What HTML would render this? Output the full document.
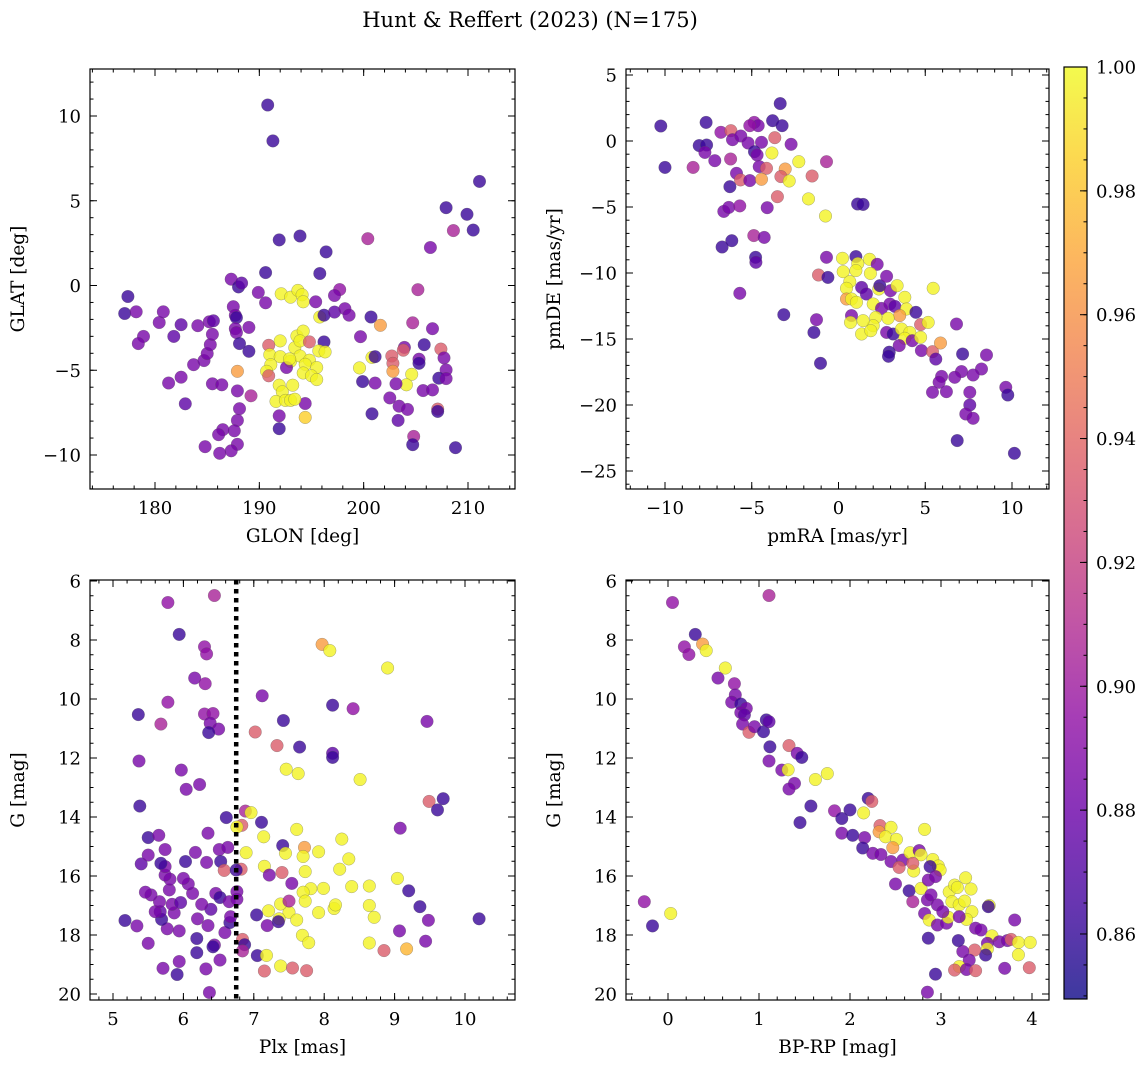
<!DOCTYPE html>
<html><head><meta charset="utf-8"><style>
html,body{margin:0;padding:0;background:#fff;}
svg text{font-family:"DejaVu Serif","Liberation Serif",serif;fill:#000;}
</style></head><body>
<svg id="fig" width="1148" height="1067" viewBox="0 0 1148 1067" xmlns="http://www.w3.org/2000/svg">
<defs>
<linearGradient id="plasma" x1="0" y1="1" x2="0" y2="0">
<stop offset="0" stop-color="#0d0887"/><stop offset="0.1" stop-color="#41049d"/><stop offset="0.2" stop-color="#6a00a8"/><stop offset="0.3" stop-color="#8f0da4"/><stop offset="0.4" stop-color="#b12a90"/><stop offset="0.5" stop-color="#cc4778"/><stop offset="0.6" stop-color="#e16462"/><stop offset="0.7" stop-color="#f2844b"/><stop offset="0.8" stop-color="#fca636"/><stop offset="0.9" stop-color="#fcce25"/><stop offset="1" stop-color="#f0f921"/>
</linearGradient>
</defs>
<text x="530" y="27" font-size="21" text-anchor="middle">Hunt &amp; Reffert (2023) (N=175)</text>
</svg>
<script>
// Panel 1: GLON vs GLAT
const glon=[190.8,191.3,211.1,207.9,209.9,208.6,210.5,191.9,193.9,200.4,196.4,206.4,190.6,195.8,177.4,177.1,178.2,180.4,180.8,178.9,178.4,181.8,182.5,182.9,181.3,182.5,183.7,184.1,184.7,185.0,185.3,185.5,185.2,185.6,185.5,186.4,187.3,188.0,188.3,187.5,187.7,187.8,187.7,187.8,189.0,188.1,189.0,187.9,187.9,189.2,188.1,187.9,187.6,186.5,186.1,187.9,187.3,186.2,184.8,189.9,190.6,192.1,193.0,193.7,194.1,194.2,195.4,195.8,196.2,197.2,197.7,197.2,198.2,198.6,200.7,201.6,199.7,205.2,204.7,206.6,205.8,203.9,203.8,202.7,207.4,207.7,205.3,205.3,202.8,202.8,207.9,207.2,207.9,204.6,204.1,203.1,205.7,206.6,202.5,203.4,204.2,207.1,207.1,203.3,204.8,204.7,208.8,200.8,201.1,199.9,200.8,201.1,199.6,191.9,191.9,194.4,194.4,192.0,190.9,191.0,191.1,190.7,190.9,191.9,193.2,192.2,191.6,192.5,193.0,193.4,192.0,193.0,192.6,193.4,193.6,194.2,193.9,194.8,196.2,195.7,196.3,193.9,194.8,194.4,195.5,194.2,195.0,195.5,192.9];
const glat=[10.65,8.53,6.14,4.59,4.2,3.24,3.27,2.69,2.92,2.76,1.98,2.24,0.76,0.71,-0.65,-1.65,-1.55,-2.18,-1.55,-3.0,-3.43,-3.0,-2.31,-6.98,-5.75,-5.41,-4.67,-2.37,-4.43,-4.02,-3.49,-2.88,-2.14,-2.08,-5.80,-5.86,0.37,-0.08,0.14,-1.25,-1.76,-1.9,-2.55,-2.78,-2.47,-3.43,-3.88,-5.06,-6.22,-6.51,-7.27,-7.96,-8.57,-8.51,-8.8,-9.37,-9.75,-9.9,-9.51,-0.41,-1.02,-0.49,-0.69,-0.29,-0.55,-0.96,-0.96,-1.86,-1.75,-1.57,-0.24,-0.59,-1.37,-1.75,-1.86,-2.35,-3.02,-0.25,-2.2,-2.55,-3.49,-3.65,-3.82,-4.16,-3.75,-4.27,-4.35,-4.59,-4.59,-5.06,-4.98,-5.47,-5.49,-5.24,-5.86,-5.80,-6.2,-6.16,-6.63,-7.12,-7.31,-7.29,-7.43,-7.96,-8.9,-9.39,-9.57,-7.57,-5.76,-5.67,-4.24,-4.2,-4.86,-8.45,-7.69,-6.96,-7.78,-3.27,-3.53,-4.08,-4.67,-5.06,-5.33,-5.88,-5.88,-6.27,-6.84,-6.78,-6.78,-6.71,-4.2,-4.47,-4.84,-3.67,-2.98,-2.69,-3.27,-3.33,-3.33,-3.86,-3.92,-4.16,-4.41,-4.65,-4.84,-5.16,-5.33,-5.55,-4.33];
const prob1=[.862,.862,.862,.862,.862,.905,.862,.862,.862,.905,.862,.885,.862,.862,.862,.862,.885,.885,.885,.885,.885,.875,.875,.875,.885,.885,.885,.885,.885,.885,.885,.885,.885,.875,.885,.885,.885,.862,.875,.885,.885,.862,.885,.885,.885,.862,.862,.965,.885,.905,.885,.885,.885,.885,.885,.885,.885,.885,.885,.885,.885,.998,.998,.998,.998,.998,.885,.998,.862,.875,.895,.885,.885,.885,.862,.965,.885,.905,.905,.885,.862,.885,.935,.935,.935,.885,.885,.862,.935,.965,.885,.862,.885,.998,.998,.885,.885,.885,.885,.885,.885,.935,.862,.875,.905,.862,.862,.862,.885,.862,.998,.862,.998,.862,.885,.885,.985,.998,.935,.998,.998,.998,.935,.998,.998,.998,.998,.998,.998,.998,.998,.998,.885,.998,.998,.998,.998,.935,.862,.998,.998,.998,.998,.998,.998,.998,.998,.998,.998];
// Panel 2: pmRA vs pmDE
const pmra=[-10.24,-10.0,-7.63,-3.36,-3.8,-3.25,-4.86,-4.63,-5.11,-6.78,-6.2,-6.11,-5.63,-5.21,-4.44,-3.67,-2.73,-8.03,-7.6,-7.7,-4.84,-4.69,-3.84,-7.13,-6.22,-8.38,-4.57,-4.15,-3.07,-2.29,-0.69,-5.88,-5.65,-5.11,-4.44,-3.32,-2.84,-1.52,-6.26,-3.52,-1.73,-0.75,-6.61,-6.32,-5.69,-4.11,1.1,1.42,-6.71,-6.15,-4.88,-4.28,-4.78,-4.76,-5.69,-3.15,-1.42,-1.04,-1.27,-0.69,-1.15,-0.61,0.23,1.0,1.11,1.79,2.23,1.84,1.0,0.27,0.65,0.46,0.46,0.75,1.04,1.33,1.61,2.32,2.38,2.77,3.0,3.38,3.82,2.0,2.48,2.96,3.25,3.92,4.46,5.46,3.53,2.86,2.15,2.0,1.42,0.75,0.69,1.33,1.86,2.77,3.15,3.63,4.11,3.82,4.25,4.73,4.73,5.17,4.78,3.5,2.92,2.88,5.42,5.88,5.61,6.8,7.15,8.53,8.24,7.09,7.76,6.7,5.94,5.8,5.42,6.22,7.57,7.57,7.34,7.76,9.64,9.76,6.84,10.14];
const pmde=[1.14,-2.0,1.41,2.83,1.54,1.16,1.41,1.16,1.16,0.66,0.78,0.1,0.38,-0.15,-0.1,0.25,-0.25,-0.35,-0.3,-0.86,-0.81,-1.06,-0.91,-1.49,-1.36,-2.0,-1.94,-2.07,-2.12,-1.57,-1.57,-2.45,-2.95,-3.0,-2.9,-2.7,-3.03,-2.65,-3.46,-4.22,-4.39,-5.68,-5.33,-5.03,-4.92,-5.05,-4.77,-4.8,-8.03,-7.55,-7.17,-7.3,-8.81,-9.19,-11.54,-13.16,-14.5,-16.84,-13.54,-8.81,-10.15,-10.33,-8.89,-8.76,-9.29,-8.96,-9.34,-10.03,-9.82,-9.9,-10.66,-11.16,-11.97,-11.97,-12.22,-11.09,-11.59,-11.21,-10.96,-10.25,-11.34,-10.96,-11.84,-12.35,-12.68,-12.35,-12.53,-12.73,-12.98,-11.16,-13.23,-13.43,-13.36,-13.99,-13.61,-13.23,-13.74,-14.62,-14.37,-14.5,-14.62,-14.24,-14.5,-14.95,-15.13,-14.87,-13.91,-13.74,-15.88,-15.5,-16.0,-16.31,-15.96,-15.3,-16.52,-13.86,-16.14,-16.21,-17.27,-17.47,-17.73,-17.9,-17.83,-18.28,-19.04,-18.99,-19.04,-20.0,-20.68,-21.01,-18.66,-19.24,-22.7,-23.66];
const prob2=[.862,.862,.862,.862,.862,.862,.895,.885,.895,.895,.935,.885,.885,.885,.885,.935,.885,.862,.862,.885,.862,.885,.998,.885,.905,.905,.885,.935,.965,.998,.905,.885,.935,.885,.965,.935,.998,.935,.862,.935,.998,.998,.885,.885,.895,.885,.862,.862,.862,.862,.905,.885,.862,.875,.885,.862,.862,.862,.885,.885,.935,.862,.998,.862,.998,.998,.885,.998,.998,.998,.998,.998,.965,.998,.998,.875,.875,.998,.862,.885,.885,.998,.998,.998,.885,.885,.875,.998,.862,.998,.965,.998,.998,.998,.998,.885,.998,.998,.998,.885,.862,.998,.998,.998,.885,.998,.935,.998,.885,.885,.862,.862,.935,.965,.875,.885,.862,.885,.885,.885,.885,.885,.885,.885,.885,.885,.885,.875,.885,.885,.885,.862,.862,.862];
// Panel 3: Plx vs G
const plx=[5.78,6.44,5.94,6.30,6.33,6.16,6.31,5.78,5.36,5.68,6.30,6.42,6.38,6.5,6.36,5.37,5.97,6.04,6.23,5.38,7.12,7.02,7.33,7.42,7.65,8.12,8.41,8.12,8.12,7.97,8.08,8.9,9.46,7.46,7.63,8.51,9.49,9.69,9.61,9.08,6.61,6.88,6.96,6.83,6.76,7.11,7.14,7.61,8.25,7.41,7.45,7.72,7.7,6.89,7.92,8.35,8.22,7.73,7.4,7.15,6.82,7.22,7.54,9.04,7.99,7.81,7.7,7.73,8.39,8.64,9.2,9.36,9.48,10.2,8.64,8.71,8.14,8.16,7.92,7.5,7.38,7.5,7.61,7.36,7.21,7.04,7.19,7.35,7.69,7.78,8.64,8.85,9.17,9.44,9.07,6.84,6.87,6.84,7.05,7.18,7.38,7.15,7.55,7.75,6.37,5.91,5.71,5.94,6.32,6.52,6.44,6.42,6.19,6.19,5.5,5.17,5.34,5.77,5.94,6.35,6.59,6.66,6.67,6.2,6.39,6.26,5.87,5.84,5.96,5.69,5.67,5.6,5.66,5.54,5.46,5.8,6.13,6.07,6.0,5.81,5.74,5.74,5.68,5.4,5.5,5.74,5.5,5.65,6.03,6.17,6.33,6.35,6.51,6.63,6.53,6.58,6.75,6.46,6.52,6.65,6.76,6.76];
const gmag3=[6.73,6.49,7.81,8.23,8.47,9.29,9.48,10.11,10.53,10.85,10.51,10.49,10.82,11.02,11.14,12.1,12.41,13.06,12.9,13.63,9.89,11.12,11.58,10.73,11.63,10.21,10.33,11.84,11.98,8.15,8.36,8.95,10.76,12.38,12.53,12.73,13.47,13.38,13.76,14.38,14.02,13.8,13.85,14.28,14.34,14.18,14.67,14.42,14.75,14.97,15.23,15.03,15.34,15.21,15.18,15.42,15.77,15.85,15.88,15.67,15.77,15.97,16.25,16.08,16.42,16.43,16.55,16.85,16.36,16.34,16.5,17.04,17.5,17.45,17.0,17.4,17.1,16.98,17.24,17.23,16.95,16.85,17.49,17.45,17.18,17.32,17.68,17.55,18.01,18.26,18.27,18.53,18.47,18.21,17.86,18.15,18.33,18.54,18.7,18.69,19.05,19.22,19.12,19.21,19.95,19.34,19.13,18.9,19.15,18.85,18.34,18.4,18.12,18.6,18.28,17.51,17.69,17.79,17.86,17.68,17.92,17.58,17.38,17.45,17.13,16.96,17.25,16.96,16.9,17.47,17.21,17.21,16.87,16.64,16.55,16.47,16.59,16.27,16.08,16.11,15.97,15.68,15.57,15.59,15.29,15.1,14.7,14.62,15.51,15.2,15.54,14.55,15.1,15.03,15.51,15.81,15.8,16.59,16.73,16.87,16.53,16.79];
const prob3=[.895,.905,.862,.895,.895,.885,.895,.895,.862,.905,.895,.895,.885,.885,.862,.885,.885,.885,.885,.862,.885,.935,.935,.862,.862,.862,.895,.875,.862,.965,.998,.998,.885,.998,.998,.998,.935,.862,.862,.885,.862,.905,.998,.935,.998,.862,.998,.998,.998,.862,.998,.965,.998,.998,.998,.998,.998,.998,.935,.998,.935,.885,.885,.998,.998,.998,.998,.998,.998,.998,.862,.862,.885,.862,.998,.998,.998,.998,.998,.998,.998,.905,.998,.998,.998,.862,.885,.862,.998,.998,.998,.935,.975,.885,.885,.935,.862,.905,.862,.998,.998,.935,.935,.935,.885,.862,.885,.885,.885,.885,.885,.862,.862,.862,.885,.862,.885,.885,.885,.885,.885,.862,.885,.885,.875,.885,.885,.885,.875,.862,.875,.885,.885,.885,.885,.885,.885,.885,.885,.885,.885,.885,.862,.875,.885,.885,.862,.885,.862,.885,.885,.885,.885,.885,.862,.935,.862,.885,.862,.885,.885,.885,.885];
// Panel 4: BP-RP vs G
const bprp=[0.05,1.11,0.3,0.18,0.23,0.38,0.42,0.63,0.55,0.73,0.74,0.7,0.8,0.86,0.8,0.84,0.82,0.89,0.95,1.05,1.08,1.11,1.12,1.11,1.33,1.42,1.47,1.25,1.32,1.39,1.33,1.62,1.75,1.57,1.45,1.83,1.91,2.0,1.91,2.03,2.15,2.2,2.24,2.16,2.14,2.25,2.33,2.32,2.45,2.39,2.51,2.47,2.34,2.45,2.58,2.54,2.66,2.76,2.78,2.82,2.7,2.69,2.91,2.97,2.99,2.88,2.5,2.65,2.78,2.86,2.94,2.69,2.85,2.89,2.96,2.82,2.87,2.96,3.06,3.08,3.02,3.09,3.15,3.18,3.27,3.33,3.12,3.2,3.26,3.34,3.28,3.2,3.38,3.44,3.53,3.52,3.56,3.51,3.51,3.49,3.37,3.24,3.19,3.31,3.2,3.15,3.28,3.38,3.64,3.73,3.77,3.81,3.85,3.98,3.85,3.97,3.7,2.86,2.94,2.85,-0.26,-0.17,0.03];
const gmag4=[6.73,6.49,7.81,8.23,8.49,8.14,8.36,8.95,9.29,9.48,9.86,10.11,10.17,10.32,10.46,10.54,10.85,11.13,10.94,11.11,10.71,10.77,11.62,12.1,11.58,11.84,11.98,12.41,12.4,12.86,13.05,12.73,12.53,13.63,14.19,13.79,14.05,13.76,14.55,14.62,13.86,13.37,13.47,14.7,15.05,15.23,14.29,14.5,14.35,14.67,14.76,15.04,15.27,15.51,15.46,15.71,15.21,15.14,15.28,14.42,15.83,15.57,15.44,15.66,15.8,15.68,16.27,16.5,16.42,16.14,16.02,16.87,16.81,16.64,16.98,17.27,17.49,17.66,17.6,17.4,17.21,16.54,16.31,16.39,16.06,16.44,16.87,16.98,16.85,17.21,17.47,17.38,17.77,17.83,17.0,17.04,18.03,18.28,18.47,18.68,18.51,18.56,18.19,18.85,19.07,19.19,19.17,19.21,18.23,18.19,18.15,17.49,18.25,18.25,18.67,19.11,19.13,18.11,19.33,19.94,16.87,17.69,17.27];
const prob4=[.895,.905,.862,.895,.895,.965,.998,.998,.885,.895,.885,.885,.862,.885,.885,.875,.885,.935,.885,.862,.862,.875,.862,.885,.935,.885,.862,.885,.998,.885,.885,.998,.998,.862,.862,.895,.862,.862,.885,.862,.998,.862,.935,.885,.862,.885,.935,.965,.998,.998,.998,.965,.885,.885,.885,.935,.998,.885,.998,.998,.998,.935,.998,.998,.998,.862,.885,.862,.998,.885,.885,.905,.885,.885,.885,.885,.998,.885,.885,.998,.885,.998,.998,.998,.998,.998,.998,.998,.998,.998,.998,.885,.885,.885,.998,.862,.998,.885,.998,.862,.935,.885,.862,.885,.998,.935,.885,.935,.885,.885,.935,.885,.998,.998,.998,.935,.885,.862,.862,.885,.895,.862,.998];
// Colorbar
const cbTicks=[0.86,0.88,0.90,0.92,0.94,0.96,0.98,1.00];
const cbMin=0.8495, cbMax=1.0;

const NS='http://www.w3.org/2000/svg';
const svg=document.getElementById('fig');
function mk(tag,attrs,parent){const e=document.createElementNS(NS,tag);for(const k in attrs)e.setAttribute(k,attrs[k]);(parent||svg).appendChild(e);return e;}
function lin(v1,p1,v2,p2){return v=>p1+(v-v1)*(p2-p1)/(v2-v1);}
const stops=[[13,8,135],[65,4,157],[106,0,168],[143,13,164],[177,42,144],[204,71,120],[225,100,98],[242,132,75],[252,166,54],[252,206,37],[240,249,33]];
function plasma(c){let t=(c-cbMin)/(cbMax-cbMin);t=Math.max(0,Math.min(1,t));const f=t*10,i=Math.min(9,Math.floor(f)),r=f-i;const a=stops[i],b=stops[i+1];return 'rgb('+[0,1,2].map(k=>Math.round(a[k]+(b[k]-a[k])*r)).join(',')+')';}
function fmt(v,d){return (v<0?'\u2212':'')+Math.abs(v).toFixed(d);}

function panel(o){
  const g=mk('g',{});
  
  
  const sx=o.sx, sy=o.sy;
  const pts=mk('g',{},g);
  
  
  for(let i=0;i<o.xs.length;i++){
    const c=mk('circle',{cx:sx(o.xs[i]).toFixed(1),cy:sy(o.ys[i]).toFixed(1),r:6.3,fill:plasma(o.cs[i]),'fill-opacity':0.8,stroke:'#555','stroke-opacity':0.5,'stroke-width':0.5},pts);
    
    
  }
  if(o.vline!==undefined){
    const l=mk('line',{x1:sx(o.vline),x2:sx(o.vline),y1:o.y0,y2:o.y1,stroke:'#000','stroke-width':4.5,'stroke-dasharray':'4.5,4.5'},g);
    
    
  }
  const fr=mk('rect',{x:o.x0,y:o.y0,width:o.x1-o.x0,height:o.y1-o.y0,fill:'none',stroke:'#000','stroke-width':1.2},g);
  
  
  const tk=mk('g',{stroke:'#000','stroke-width':1},g);
  
  
  const eps=1e-6;
  for(let v=o.xmin[0];v<=o.xmin[1]+eps;v+=o.xmin[2]){const p=sx(v);if(p<o.x0||p>o.x1)continue;mk('line',{x1:p,x2:p,y1:o.y1,y2:o.y1-3.5},tk);mk('line',{x1:p,x2:p,y1:o.y0,y2:o.y0+3.5},tk);}
  for(let v=o.ymin[0];v<=o.ymin[1]+eps;v+=o.ymin[2]){const p=sy(v);if(p<o.y0||p>o.y1)continue;mk('line',{y1:p,y2:p,x1:o.x0,x2:o.x0+3.5},tk);mk('line',{y1:p,y2:p,x1:o.x1,x2:o.x1-3.5},tk);}
  o.xt.forEach(v=>{const p=sx(v);mk('line',{x1:p,x2:p,y1:o.y1,y2:o.y1-7},tk);mk('line',{x1:p,x2:p,y1:o.y0,y2:o.y0+7},tk);
    const t=mk('text',{x:p,y:o.y1+25,'font-size':18,'text-anchor':'middle'},g);t.textContent=fmt(v,o.xd);
    });
  o.yt.forEach(v=>{const p=sy(v);mk('line',{y1:p,y2:p,x1:o.x0,x2:o.x0+7},tk);mk('line',{y1:p,y2:p,x1:o.x1,x2:o.x1-7},tk);
    const t=mk('text',{x:o.x0-9,y:p+6.5,'font-size':18,'text-anchor':'end'},g);t.textContent=fmt(v,0);
    });
  const xl=mk('text',{x:(o.x0+o.x1)/2,y:o.y1+53,'font-size':18.5,'text-anchor':'middle'},g);xl.textContent=o.xlabel;
  
  const yx=o.x0-66, yy=(o.y0+o.y1)/2;
  const yl=mk('text',{x:yx,y:yy,'font-size':18.5,'text-anchor':'middle',transform:'rotate(-90 '+yx+' '+yy+')'},g);yl.textContent=o.ylabel;
  
}

panel({name:'glon-glat-panel',x0:90,x1:515,y0:69,y1:489,sx:lin(180,155,210,468),sy:lin(10,116,-10,455),xs:glon,ys:glat,cs:prob1,
  xt:[180,190,200,210],yt:[-10,-5,0,5,10],xmin:[174,216,2],ymin:[-12,12,1],xd:0,xlabel:'GLON [deg]',ylabel:'GLAT [deg]'});
panel({name:'pm-panel',x0:626,x1:1049,y0:69,y1:489,sx:lin(-10,665,10,1012),sy:lin(5,75,-25,471),xs:pmra,ys:pmde,cs:prob2,
  xt:[-10,-5,0,5,10],yt:[-25,-20,-15,-10,-5,0,5],xmin:[-12,12,1],ymin:[-26,5,1],xd:0,xlabel:'pmRA [mas/yr]',ylabel:'pmDE [mas/yr]'});
panel({name:'plx-g-panel',x0:90,x1:515,y0:580,y1:1000,sx:lin(5,113,10,465),sy:lin(6,581,20,994),xs:plx,ys:gmag3,cs:prob3,vline:6.75,
  xt:[5,6,7,8,9,10],yt:[6,8,10,12,14,16,18,20],xmin:[4.6,10.8,0.2],ymin:[6,20,0.5],xd:0,xlabel:'Plx [mas]',ylabel:'G [mag]'});
panel({name:'cmd-panel',x0:626,x1:1049,y0:580,y1:1000,sx:lin(0,668,4,1032),sy:lin(6,581,20,994),xs:bprp,ys:gmag4,cs:prob4,
  xt:[0,1,2,3,4],yt:[6,8,10,12,14,16,18,20],xmin:[-0.4,4.2,0.2],ymin:[6,20,0.5],xd:0,xlabel:'BP-RP [mag]',ylabel:'G [mag]'});

// colorbar
const cb=mk('g',{});


const cy0=67,cy1=999,cx0=1064,cx1=1087;
const cs=lin(cbMin,cy1,cbMax,cy0);
const cbr=mk('rect',{x:cx0,y:cy0,width:cx1-cx0,height:cy1-cy0,fill:'url(#plasma)','fill-opacity':0.8,stroke:'#000','stroke-width':1.2},cb);


for(let v=0.85;v<=1.0001;v+=0.005){const p=cs(v);if(p<cy0||p>cy1)continue;mk('line',{x1:cx1,x2:cx1-3.5,y1:p,y2:p,stroke:'#000'},cb);}
cbTicks.forEach(v=>{const p=cs(v);mk('line',{x1:cx1,x2:cx1-7,y1:p,y2:p,stroke:'#000'},cb);
  const t=mk('text',{x:cx1+9,y:p+6.5,'font-size':18},cb);t.textContent=v.toFixed(2);
  });
</script>
</body></html>
